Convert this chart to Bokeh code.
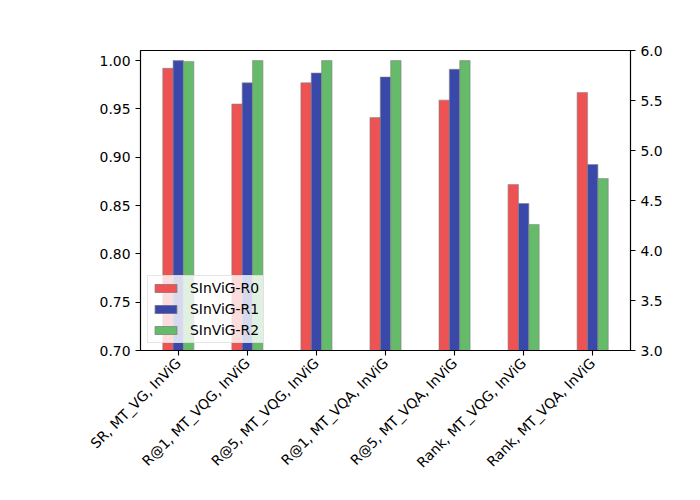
import math
from bokeh.plotting import figure
from bokeh.models import (Range1d, LinearAxis, FixedTicker, NumeralTickFormatter,
                          ColumnDataSource, Legend, LegendItem)
from bokeh.transform import dodge
from bokeh.embed import file_html
from bokeh.resources import INLINE

# ---- data ----
categories = ["SR, MT_VG, InViG", "R@1, MT_VQG, InViG", "R@5, MT_VQG, InViG",
              "R@1, MT_VQA, InViG", "R@5, MT_VQA, InViG",
              "Rank, MT_VQG, InViG", "Rank, MT_VQA, InViG"]
# which categories are read against the right axis (Rank)
on_right_axis = [False, False, False, False, False, True, True]
series_names = ["SInViG-R0", "SInViG-R1", "SInViG-R2"]
r0_values = [0.992, 0.955, 0.977, 0.941, 0.959, 4.66, 5.58]
r1_values = [1.000, 0.977, 0.987, 0.983, 0.991, 4.47, 4.86]
r2_values = [0.999, 1.000, 1.000, 1.000, 1.000, 4.26, 4.72]
left_ticks = [0.70, 0.75, 0.80, 0.85, 0.90, 0.95, 1.00]
right_ticks = [3.0, 3.5, 4.0, 4.5, 5.0, 5.5, 6.0]

colors = ["#EE5252", "#3A49A9", "#66BB6A"]
offsets = [-0.15, 0.0, 0.15]
bar_width = 0.15
FONT = "DejaVu Sans"
FS = "13.9px"

p = figure(width=684, height=484, output_backend="svg", toolbar_location=None,
           x_range=Range1d(-0.5475, 6.5475), y_range=Range1d(0.70, 1.0104),
           min_border_left=140, min_border_right=54, min_border_top=50,
           min_border_bottom=134)
p.extra_y_ranges = {"right": Range1d(3.0, 6.0)}

p.xgrid.visible = False
p.ygrid.visible = False
p.outline_line_color = "black"
p.outline_line_width = 1.1
p.background_fill_color = "white"
p.border_fill_color = "white"

idx = list(range(len(categories)))
legend_items = []
for name, vals, col, off in zip(series_names, [r0_values, r1_values, r2_values], colors, offsets):
    renderers = []
    for right in (False, True):
        xs = [i for i in idx if on_right_axis[i] == right]
        ys = [vals[i] for i in idx if on_right_axis[i] == right]
        src = ColumnDataSource(dict(x=xs, top=ys))
        kw = {"y_range_name": "right"} if right else {}
        r = p.vbar(x=dodge("x", off), top="top", bottom=0, width=bar_width, source=src,
                   fill_color=col, line_color="#808080", line_alpha=0.5, line_width=1.2, **kw)
        renderers.append(r)
    legend_items.append(LegendItem(label=name, renderers=renderers))

# axes styling
def style_axis(ax):
    ax.axis_line_width = 1.1
    ax.major_tick_line_width = 1.1
    ax.major_tick_out = 5
    ax.major_tick_in = 0
    ax.minor_tick_line_color = None
    ax.major_label_standoff = 5
    ax.major_label_text_font = FONT
    ax.major_label_text_font_size = FS
    ax.major_label_text_color = "black"

xa = p.xaxis[0]
xa.ticker = FixedTicker(ticks=idx)
xa.major_label_overrides = {i: c for i, c in enumerate(categories)}
xa.major_label_orientation = math.pi / 4
style_axis(xa)

ya = p.yaxis[0]
ya.ticker = FixedTicker(ticks=left_ticks)
ya.formatter = NumeralTickFormatter(format="0.00")
style_axis(ya)

ra = LinearAxis(y_range_name="right", ticker=FixedTicker(ticks=right_ticks),
                formatter=NumeralTickFormatter(format="0.0"))
style_axis(ra)
p.add_layout(ra, "right")

legend = Legend(items=legend_items, location=(7, 7))
legend.label_text_font = FONT
legend.label_text_font_size = FS
legend.label_text_color = "black"
legend.glyph_width = 27
legend.glyph_height = 10
legend.label_height = 14
legend.label_standoff = 11
legend.spacing = 5
legend.padding = 4
legend.margin = 0
legend.border_line_color = "#cccccc"
legend.border_line_width = 1
legend.background_fill_alpha = 0.8
p.add_layout(legend, "center")

open("out.html", "w").write(file_html(p, INLINE))
